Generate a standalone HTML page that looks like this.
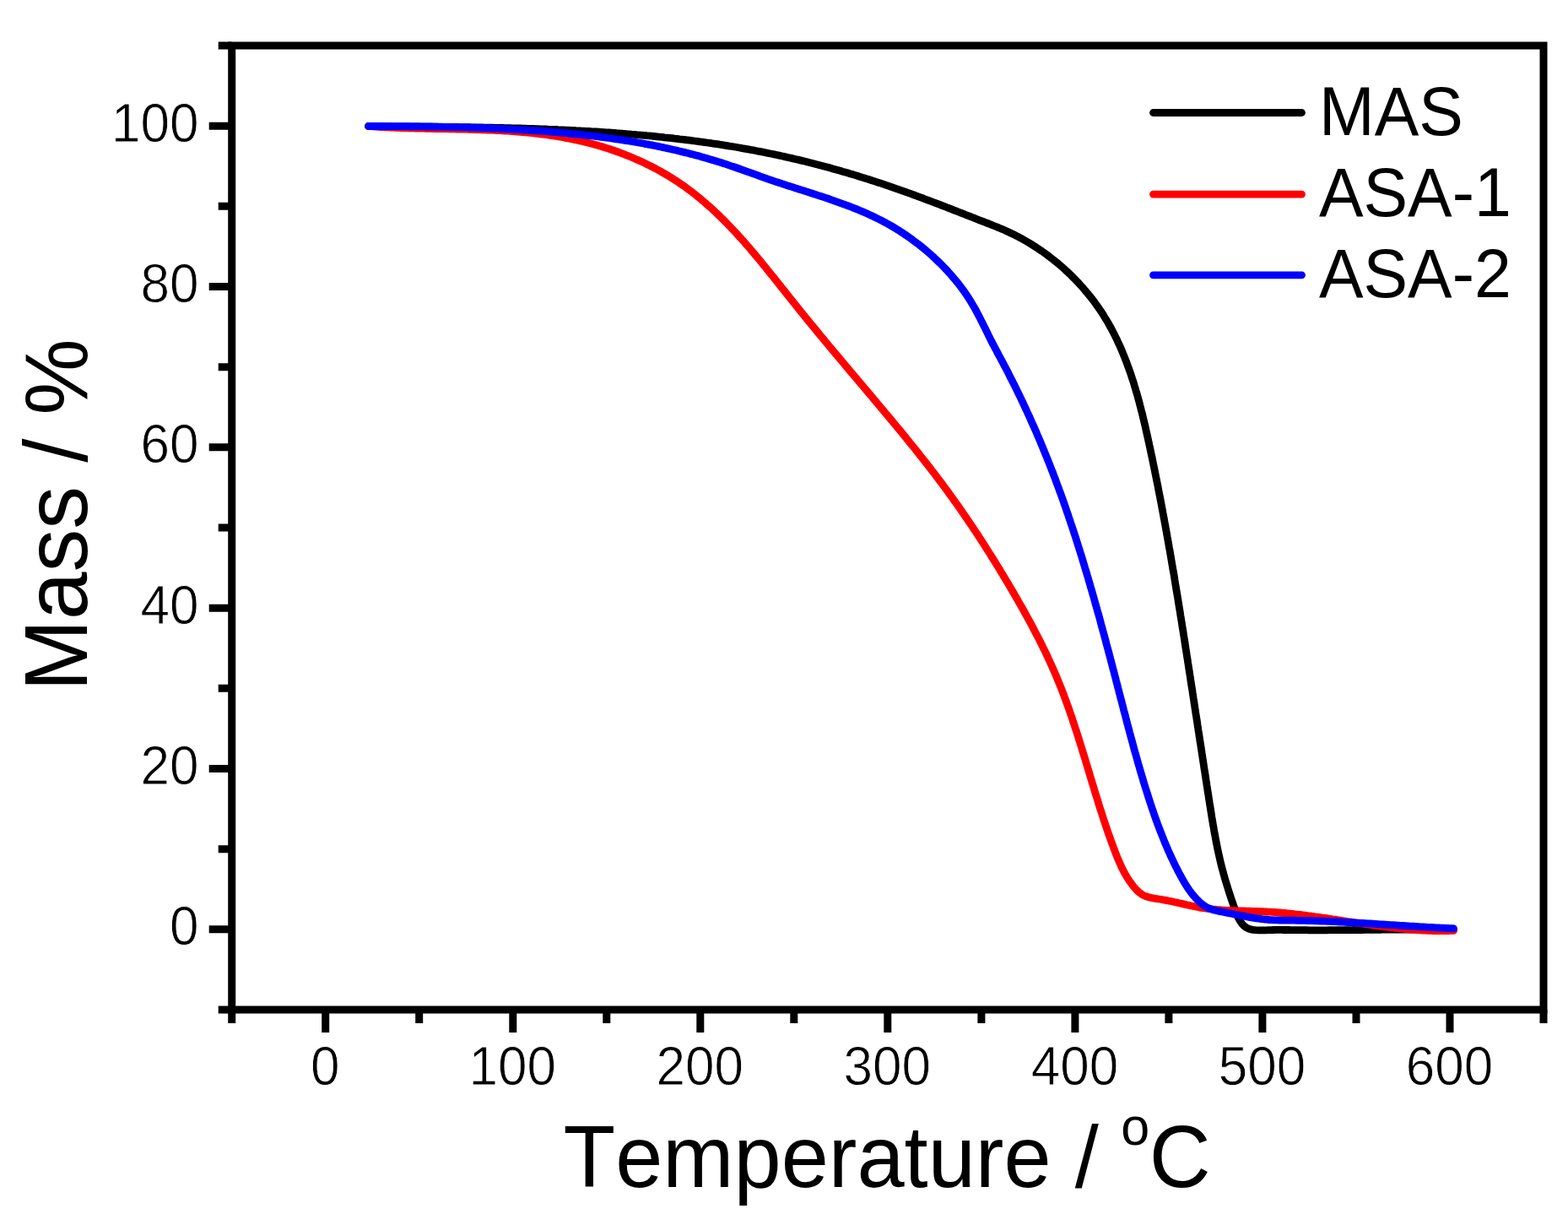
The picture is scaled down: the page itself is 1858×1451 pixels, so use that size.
<!DOCTYPE html>
<html lang="en">
<head>
<meta charset="utf-8">
<title>TGA curves: Mass / % vs Temperature / °C</title>
<style>
html,body{margin:0;padding:0;background:#fff;}
body{width:1858px;height:1451px;overflow:hidden;font-family:"Liberation Sans",Arial,Helvetica,sans-serif;}
svg{display:block;}
</style>
</head>
<body>
<svg width="1858" height="1451" viewBox="0 0 1858 1451" role="img" aria-label="TGA curves">
<rect width="1858" height="1451" fill="#fff"/>
<g fill="none" stroke-width="8.8" stroke-linecap="round" stroke-linejoin="round">
<path stroke="#000" d="M436.5,149.5 L439.5,149.5 L442.4,149.6 L445.4,149.6 L448.4,149.6 L451.4,149.6 L454.4,149.7 L457.3,149.7 L460.3,149.7 L463.3,149.7 L466.3,149.8 L469.3,149.8 L472.2,149.8 L475.2,149.9 L478.2,149.9 L481.2,149.9 L484.2,149.9 L487.2,150.0 L490.2,150.0 L493.2,150.0 L496.1,150.0 L499.1,150.1 L502.1,150.1 L505.1,150.1 L508.1,150.2 L511.1,150.2 L514.1,150.2 L517.1,150.2 L520.1,150.3 L523.1,150.3 L526.1,150.3 L529.1,150.4 L532.1,150.4 L535.1,150.5 L538.1,150.5 L541.1,150.5 L544.1,150.6 L547.1,150.6 L550.1,150.7 L553.1,150.7 L556.1,150.7 L559.1,150.8 L562.1,150.8 L565.1,150.9 L568.2,150.9 L571.2,151.0 L574.2,151.1 L577.2,151.1 L580.2,151.2 L583.2,151.2 L586.2,151.3 L589.2,151.4 L592.2,151.4 L595.2,151.5 L598.2,151.6 L601.2,151.6 L604.3,151.7 L607.3,151.8 L610.3,151.9 L613.3,152.0 L616.3,152.0 L619.3,152.1 L622.3,152.2 L625.3,152.3 L628.3,152.4 L631.3,152.5 L634.4,152.6 L637.4,152.7 L640.4,152.8 L643.4,152.9 L646.4,153.0 L649.4,153.2 L652.4,153.3 L655.4,153.4 L658.4,153.5 L661.4,153.7 L664.5,153.8 L667.5,153.9 L670.5,154.1 L673.5,154.2 L676.5,154.4 L679.5,154.5 L682.5,154.7 L685.5,154.8 L688.5,155.0 L691.5,155.1 L694.5,155.3 L697.5,155.5 L700.5,155.7 L703.5,155.8 L706.6,156.0 L709.6,156.2 L712.6,156.4 L715.6,156.6 L718.6,156.8 L721.6,157.0 L724.6,157.2 L727.6,157.4 L730.6,157.7 L733.6,157.9 L736.6,158.1 L739.6,158.3 L742.6,158.6 L745.6,158.8 L748.5,159.1 L751.5,159.3 L754.5,159.6 L757.5,159.8 L760.5,160.1 L763.5,160.4 L766.5,160.7 L769.5,160.9 L772.5,161.2 L775.5,161.5 L778.5,161.8 L781.4,162.1 L784.4,162.4 L787.4,162.8 L790.4,163.1 L793.4,163.4 L796.3,163.7 L799.3,164.1 L802.3,164.4 L805.3,164.8 L808.3,165.1 L811.2,165.5 L814.2,165.8 L817.2,166.2 L820.2,166.6 L823.1,167.0 L826.1,167.4 L829.1,167.8 L832.0,168.2 L835.0,168.6 L838.0,169.0 L840.9,169.4 L843.9,169.9 L846.8,170.3 L849.8,170.7 L852.7,171.2 L855.7,171.6 L858.7,172.1 L861.6,172.6 L864.6,173.1 L867.5,173.5 L870.5,174.0 L873.4,174.5 L876.3,175.0 L879.3,175.6 L882.2,176.1 L885.2,176.6 L888.1,177.1 L891.0,177.7 L894.0,178.2 L896.9,178.8 L899.8,179.3 L902.8,179.9 L905.7,180.5 L908.6,181.1 L911.5,181.7 L914.5,182.3 L917.4,182.9 L920.3,183.5 L923.2,184.1 L926.1,184.8 L929.0,185.4 L932.0,186.1 L934.9,186.7 L937.8,187.4 L940.7,188.1 L943.6,188.7 L946.5,189.4 L949.4,190.1 L952.3,190.8 L955.2,191.5 L958.1,192.3 L961.0,193.0 L963.9,193.7 L966.8,194.5 L969.7,195.2 L972.6,196.0 L975.4,196.7 L978.3,197.5 L981.2,198.3 L984.1,199.1 L987.0,199.9 L989.9,200.7 L992.8,201.5 L995.6,202.3 L998.5,203.2 L1001.4,204.0 L1004.3,204.8 L1007.2,205.7 L1010.0,206.5 L1012.9,207.4 L1015.8,208.3 L1018.7,209.2 L1021.5,210.1 L1024.4,211.0 L1027.3,211.9 L1030.1,212.8 L1033.0,213.7 L1035.9,214.6 L1038.8,215.6 L1041.6,216.5 L1044.5,217.4 L1047.4,218.4 L1050.2,219.4 L1053.1,220.3 L1056.0,221.3 L1058.8,222.3 L1061.7,223.3 L1064.6,224.3 L1067.4,225.3 L1070.3,226.3 L1073.2,227.4 L1076.0,228.4 L1078.9,229.4 L1081.7,230.5 L1084.6,231.5 L1087.5,232.6 L1090.3,233.6 L1093.2,234.7 L1096.0,235.8 L1098.9,236.8 L1101.7,237.9 L1104.6,239.0 L1107.4,240.1 L1110.3,241.2 L1113.1,242.2 L1115.9,243.3 L1118.8,244.4 L1121.6,245.5 L1124.4,246.6 L1127.2,247.7 L1130.0,248.8 L1132.9,249.9 L1135.7,251.0 L1138.5,252.1 L1141.3,253.2 L1144.0,254.3 L1146.8,255.3 L1149.6,256.4 L1152.4,257.5 L1155.2,258.6 L1157.9,259.7 L1160.7,260.8 L1163.4,261.8 L1166.2,262.9 L1168.9,264.0 L1171.7,265.0 L1174.4,266.1 L1177.1,267.2 L1179.8,268.3 L1182.5,269.4 L1185.2,270.5 L1187.9,271.6 L1190.6,272.8 L1193.2,274.0 L1195.9,275.2 L1198.6,276.5 L1201.2,277.7 L1203.9,279.1 L1206.5,280.4 L1209.1,281.8 L1211.7,283.2 L1214.3,284.7 L1216.9,286.2 L1219.5,287.7 L1222.0,289.3 L1224.6,290.9 L1227.1,292.5 L1229.6,294.1 L1232.1,295.8 L1234.6,297.5 L1237.1,299.3 L1239.5,301.1 L1242.0,302.9 L1244.4,304.7 L1246.8,306.6 L1249.2,308.5 L1251.5,310.4 L1253.9,312.3 L1256.2,314.3 L1258.5,316.3 L1260.8,318.3 L1263.0,320.4 L1265.3,322.4 L1267.5,324.5 L1269.7,326.7 L1271.8,328.8 L1274.0,331.0 L1276.1,333.2 L1278.2,335.4 L1280.2,337.6 L1282.3,339.9 L1284.3,342.2 L1286.2,344.5 L1288.2,346.8 L1290.1,349.1 L1292.0,351.5 L1293.8,353.8 L1295.7,356.2 L1297.5,358.6 L1299.2,361.1 L1301.0,363.5 L1302.7,366.0 L1304.3,368.4 L1306.0,370.9 L1307.6,373.4 L1309.1,375.9 L1310.7,378.5 L1312.2,381.0 L1313.7,383.6 L1315.1,386.2 L1316.6,388.8 L1317.9,391.4 L1319.3,394.0 L1320.7,396.6 L1322.0,399.3 L1323.3,401.9 L1324.5,404.6 L1325.8,407.3 L1327.0,409.9 L1328.2,412.6 L1329.4,415.4 L1330.5,418.1 L1331.6,420.8 L1332.7,423.6 L1333.8,426.3 L1334.9,429.1 L1335.9,431.9 L1336.9,434.7 L1337.9,437.4 L1338.9,440.3 L1339.9,443.1 L1340.8,445.9 L1341.7,448.7 L1342.7,451.5 L1343.6,454.4 L1344.4,457.2 L1345.3,460.1 L1346.1,463.0 L1347.0,465.8 L1347.8,468.7 L1348.6,471.6 L1349.4,474.5 L1350.2,477.4 L1350.9,480.3 L1351.7,483.2 L1352.4,486.1 L1353.2,489.0 L1353.9,491.9 L1354.6,494.9 L1355.3,497.8 L1356.0,500.7 L1356.7,503.6 L1357.4,506.6 L1358.0,509.5 L1358.7,512.5 L1359.3,515.4 L1360.0,518.3 L1360.6,521.3 L1361.3,524.2 L1361.9,527.2 L1362.6,530.1 L1363.2,533.1 L1363.8,536.0 L1364.4,539.0 L1365.1,541.9 L1365.7,544.9 L1366.3,547.8 L1366.9,550.8 L1367.5,553.7 L1368.1,556.7 L1368.7,559.7 L1369.3,562.6 L1369.9,565.6 L1370.5,568.5 L1371.1,571.5 L1371.7,574.4 L1372.3,577.4 L1372.8,580.4 L1373.4,583.3 L1374.0,586.3 L1374.6,589.2 L1375.1,592.2 L1375.7,595.1 L1376.3,598.1 L1376.8,601.1 L1377.4,604.0 L1377.9,607.0 L1378.5,610.0 L1379.0,612.9 L1379.6,615.9 L1380.1,618.8 L1380.7,621.8 L1381.2,624.8 L1381.7,627.7 L1382.3,630.7 L1382.8,633.7 L1383.3,636.6 L1383.9,639.6 L1384.4,642.6 L1384.9,645.5 L1385.4,648.5 L1386.0,651.5 L1386.5,654.4 L1387.0,657.4 L1387.5,660.4 L1388.0,663.3 L1388.5,666.3 L1389.0,669.3 L1389.5,672.2 L1390.0,675.2 L1390.6,678.2 L1391.1,681.1 L1391.6,684.1 L1392.0,687.1 L1392.5,690.1 L1393.0,693.0 L1393.5,696.0 L1394.0,699.0 L1394.5,701.9 L1395.0,704.9 L1395.5,707.9 L1396.0,710.8 L1396.4,713.8 L1396.9,716.8 L1397.4,719.8 L1397.9,722.7 L1398.4,725.7 L1398.8,728.7 L1399.3,731.6 L1399.8,734.6 L1400.3,737.6 L1400.7,740.5 L1401.2,743.5 L1401.7,746.5 L1402.2,749.5 L1402.6,752.4 L1403.1,755.4 L1403.6,758.4 L1404.0,761.3 L1404.5,764.3 L1404.9,767.3 L1405.4,770.2 L1405.9,773.2 L1406.3,776.2 L1406.8,779.1 L1407.3,782.1 L1407.7,785.1 L1408.2,788.1 L1408.6,791.0 L1409.1,794.0 L1409.6,797.0 L1410.0,799.9 L1410.5,802.9 L1410.9,805.9 L1411.4,808.8 L1411.8,811.8 L1412.3,814.8 L1412.8,817.7 L1413.2,820.7 L1413.7,823.7 L1414.1,826.6 L1414.6,829.6 L1415.0,832.5 L1415.5,835.5 L1415.9,838.5 L1416.4,841.4 L1416.8,844.4 L1417.3,847.4 L1417.8,850.3 L1418.2,853.3 L1418.7,856.2 L1419.1,859.2 L1419.6,862.2 L1420.0,865.1 L1420.5,868.1 L1420.9,871.0 L1421.4,874.0 L1421.8,877.0 L1422.3,879.9 L1422.8,882.9 L1423.2,885.8 L1423.7,888.8 L1424.1,891.7 L1424.6,894.7 L1425.0,897.7 L1425.5,900.6 L1425.9,903.6 L1426.4,906.5 L1426.8,909.5 L1427.3,912.4 L1427.8,915.4 L1428.2,918.3 L1428.7,921.3 L1429.1,924.2 L1429.6,927.2 L1430.0,930.1 L1430.5,933.1 L1430.9,936.0 L1431.4,939.0 L1431.9,941.9 L1432.3,944.9 L1432.8,947.8 L1433.2,950.7 L1433.7,953.7 L1434.2,956.6 L1434.6,959.6 L1435.1,962.5 L1435.6,965.5 L1436.0,968.4 L1436.5,971.3 L1437.0,974.3 L1437.5,977.2 L1438.0,980.1 L1438.5,983.1 L1439.0,986.0 L1439.6,988.9 L1440.1,991.9 L1440.7,994.8 L1441.2,997.7 L1441.8,1000.7 L1442.4,1003.6 L1443.0,1006.5 L1443.6,1009.5 L1444.3,1012.4 L1444.9,1015.3 L1445.6,1018.2 L1446.3,1021.2 L1447.0,1024.1 L1447.7,1027.0 L1448.5,1029.9 L1449.3,1032.8 L1450.1,1035.8 L1450.9,1038.7 L1451.7,1041.6 L1452.6,1044.5 L1453.5,1047.4 L1454.4,1050.3 L1455.3,1053.2 L1456.2,1056.1 L1457.1,1059.0 L1458.1,1061.9 L1459.0,1064.8 L1460.0,1067.6 L1461.0,1070.4 L1461.9,1073.3 L1462.9,1076.1 L1463.8,1078.8 L1464.9,1081.6 L1466.0,1084.3 L1467.2,1087.0 L1468.7,1089.7 L1470.3,1092.3 L1472.2,1094.7 L1474.3,1096.9 L1476.7,1098.6 L1479.3,1100.0 L1482.1,1100.9 L1485.0,1101.4 L1488.0,1101.7 L1491.0,1101.9 L1494.0,1101.9 L1497.0,1101.9 L1500.0,1101.8 L1503.0,1101.7 L1506.0,1101.6 L1509.0,1101.5 L1512.0,1101.4 L1515.0,1101.4 L1518.1,1101.4 L1521.1,1101.5 L1524.1,1101.5 L1527.1,1101.5 L1530.1,1101.6 L1533.1,1101.6 L1536.1,1101.7 L1539.2,1101.7 L1542.2,1101.7 L1545.2,1101.7 L1548.2,1101.7 L1551.2,1101.8 L1554.2,1101.8 L1557.2,1101.8 L1560.2,1101.8 L1563.2,1101.8 L1566.1,1101.8 L1569.1,1101.8 L1572.1,1101.8 L1575.1,1101.7 L1578.1,1101.7 L1581.1,1101.7 L1584.1,1101.7 L1587.1,1101.7 L1590.0,1101.7 L1593.0,1101.6 L1596.0,1101.6 L1599.0,1101.6 L1602.0,1101.6 L1605.0,1101.5 L1607.9,1101.5 L1610.9,1101.5 L1613.9,1101.5 L1616.9,1101.4 L1619.9,1101.4 L1622.9,1101.4 L1625.8,1101.3 L1628.8,1101.3 L1631.8,1101.3 L1634.8,1101.3 L1637.8,1101.2 L1640.8,1101.2 L1643.7,1101.2 L1646.7,1101.2 L1649.7,1101.1 L1652.7,1101.1 L1655.7,1101.1 L1658.7,1101.1 L1661.7,1101.1 L1664.7,1101.1 L1667.7,1101.1 L1670.7,1101.0 L1673.7,1101.0 L1676.7,1101.0 L1679.7,1101.0 L1682.7,1101.1 L1685.7,1101.1 L1688.7,1101.1 L1691.8,1101.1 L1694.8,1101.1 L1697.8,1101.1 L1700.8,1101.2 L1703.8,1101.2 L1706.9,1101.2 L1709.9,1101.3 L1712.9,1101.3 L1716.0,1101.4 L1719.0,1101.4 L1722.1,1101.5 L1722.5,1101.5"/>
<path stroke="#f00" d="M436.5,149.5 L439.5,149.7 L442.4,149.9 L445.4,150.1 L448.4,150.3 L451.4,150.5 L454.3,150.6 L457.3,150.8 L460.3,150.9 L463.3,151.0 L466.3,151.2 L469.3,151.3 L472.3,151.4 L475.3,151.5 L478.3,151.6 L481.2,151.7 L484.2,151.8 L487.2,151.9 L490.2,151.9 L493.2,152.0 L496.2,152.1 L499.2,152.2 L502.2,152.2 L505.3,152.3 L508.3,152.3 L511.3,152.4 L514.3,152.5 L517.3,152.5 L520.3,152.6 L523.3,152.6 L526.3,152.7 L529.3,152.7 L532.3,152.8 L535.3,152.8 L538.3,152.9 L541.3,153.0 L544.4,153.0 L547.4,153.1 L550.4,153.2 L553.4,153.2 L556.4,153.3 L559.4,153.4 L562.4,153.5 L565.4,153.6 L568.4,153.7 L571.4,153.8 L574.4,153.9 L577.4,154.0 L580.4,154.1 L583.4,154.2 L586.4,154.4 L589.4,154.5 L592.4,154.7 L595.4,154.9 L598.4,155.0 L601.4,155.2 L604.4,155.4 L607.4,155.6 L610.4,155.9 L613.4,156.1 L616.4,156.3 L619.4,156.6 L622.4,156.9 L625.3,157.1 L628.3,157.4 L631.3,157.7 L634.3,158.1 L637.3,158.4 L640.2,158.8 L643.2,159.1 L646.2,159.5 L649.1,159.9 L652.1,160.4 L655.1,160.8 L658.0,161.2 L661.0,161.7 L663.9,162.2 L666.9,162.7 L669.8,163.3 L672.8,163.8 L675.7,164.4 L678.6,165.0 L681.6,165.6 L684.5,166.2 L687.4,166.9 L690.4,167.5 L693.3,168.2 L696.2,169.0 L699.1,169.7 L702.0,170.5 L704.9,171.3 L707.8,172.1 L710.7,172.9 L713.6,173.8 L716.5,174.7 L719.4,175.6 L722.3,176.5 L725.1,177.5 L728.0,178.5 L730.8,179.5 L733.7,180.5 L736.5,181.6 L739.4,182.7 L742.2,183.8 L745.0,184.9 L747.8,186.0 L750.6,187.2 L753.3,188.4 L756.1,189.6 L758.9,190.9 L761.6,192.1 L764.3,193.4 L767.0,194.8 L769.7,196.1 L772.4,197.5 L775.1,198.8 L777.8,200.2 L780.4,201.7 L783.0,203.1 L785.6,204.6 L788.2,206.1 L790.8,207.6 L793.4,209.2 L795.9,210.8 L798.5,212.4 L801.0,214.0 L803.5,215.6 L805.9,217.3 L808.4,219.0 L810.8,220.7 L813.2,222.4 L815.6,224.2 L818.0,226.0 L820.4,227.8 L822.7,229.6 L825.0,231.4 L827.3,233.3 L829.6,235.2 L831.9,237.1 L834.1,239.0 L836.4,240.9 L838.6,242.9 L840.8,244.8 L843.0,246.8 L845.2,248.8 L847.4,250.9 L849.5,252.9 L851.7,255.0 L853.8,257.0 L855.9,259.1 L858.0,261.2 L860.1,263.3 L862.2,265.5 L864.3,267.6 L866.3,269.8 L868.4,271.9 L870.4,274.1 L872.5,276.3 L874.5,278.5 L876.5,280.7 L878.5,282.9 L880.5,285.2 L882.5,287.4 L884.4,289.7 L886.4,291.9 L888.4,294.2 L890.3,296.5 L892.3,298.8 L894.2,301.1 L896.1,303.4 L898.1,305.7 L900.0,308.0 L901.9,310.3 L903.8,312.7 L905.7,315.0 L907.6,317.3 L909.5,319.7 L911.4,322.0 L913.3,324.4 L915.2,326.7 L917.1,329.1 L919.0,331.5 L920.9,333.8 L922.8,336.2 L924.6,338.5 L926.5,340.9 L928.4,343.3 L930.3,345.6 L932.2,348.0 L934.0,350.4 L935.9,352.7 L937.8,355.1 L939.7,357.5 L941.6,359.8 L943.5,362.2 L945.4,364.5 L947.2,366.9 L949.1,369.2 L951.0,371.6 L952.9,373.9 L954.8,376.3 L956.7,378.6 L958.6,380.9 L960.5,383.3 L962.5,385.6 L964.4,387.9 L966.3,390.3 L968.2,392.6 L970.1,394.9 L972.0,397.2 L973.9,399.5 L975.9,401.9 L977.8,404.2 L979.7,406.5 L981.6,408.8 L983.5,411.1 L985.5,413.4 L987.4,415.7 L989.3,418.0 L991.3,420.3 L993.2,422.6 L995.1,424.9 L997.1,427.2 L999.0,429.5 L1000.9,431.8 L1002.8,434.1 L1004.8,436.4 L1006.7,438.7 L1008.6,441.0 L1010.6,443.3 L1012.5,445.6 L1014.5,447.9 L1016.4,450.2 L1018.3,452.5 L1020.3,454.7 L1022.2,457.0 L1024.1,459.3 L1026.1,461.6 L1028.0,463.9 L1029.9,466.2 L1031.9,468.5 L1033.8,470.8 L1035.7,473.1 L1037.7,475.4 L1039.6,477.7 L1041.5,480.0 L1043.4,482.3 L1045.4,484.6 L1047.3,486.9 L1049.2,489.2 L1051.1,491.5 L1053.1,493.8 L1055.0,496.1 L1056.9,498.4 L1058.8,500.7 L1060.7,503.0 L1062.6,505.3 L1064.6,507.6 L1066.5,509.9 L1068.4,512.2 L1070.3,514.6 L1072.2,516.9 L1074.1,519.2 L1075.9,521.5 L1077.8,523.9 L1079.7,526.2 L1081.6,528.5 L1083.5,530.8 L1085.4,533.2 L1087.2,535.5 L1089.1,537.9 L1090.9,540.2 L1092.8,542.5 L1094.7,544.9 L1096.5,547.2 L1098.3,549.6 L1100.2,552.0 L1102.0,554.3 L1103.8,556.7 L1105.7,559.1 L1107.5,561.4 L1109.3,563.8 L1111.1,566.2 L1112.9,568.6 L1114.7,571.0 L1116.5,573.3 L1118.2,575.7 L1120.0,578.1 L1121.8,580.5 L1123.5,582.9 L1125.3,585.4 L1127.0,587.8 L1128.8,590.2 L1130.5,592.6 L1132.2,595.0 L1134.0,597.5 L1135.7,599.9 L1137.4,602.3 L1139.1,604.8 L1140.8,607.2 L1142.5,609.7 L1144.2,612.1 L1145.9,614.6 L1147.5,617.1 L1149.2,619.5 L1150.9,622.0 L1152.5,624.5 L1154.2,627.0 L1155.8,629.4 L1157.5,631.9 L1159.1,634.4 L1160.7,636.9 L1162.4,639.4 L1164.0,641.9 L1165.6,644.4 L1167.2,646.9 L1168.8,649.5 L1170.4,652.0 L1172.0,654.5 L1173.6,657.0 L1175.2,659.6 L1176.8,662.1 L1178.4,664.6 L1180.0,667.2 L1181.5,669.7 L1183.1,672.3 L1184.7,674.9 L1186.2,677.4 L1187.8,680.0 L1189.3,682.6 L1190.9,685.1 L1192.4,687.7 L1194.0,690.3 L1195.5,692.9 L1197.0,695.5 L1198.6,698.1 L1200.1,700.7 L1201.6,703.3 L1203.1,705.9 L1204.6,708.5 L1206.1,711.1 L1207.6,713.8 L1209.1,716.4 L1210.6,719.0 L1212.1,721.7 L1213.6,724.3 L1215.0,726.9 L1216.5,729.6 L1218.0,732.3 L1219.4,734.9 L1220.9,737.6 L1222.3,740.2 L1223.7,742.9 L1225.1,745.6 L1226.5,748.3 L1227.9,751.0 L1229.3,753.6 L1230.7,756.3 L1232.1,759.0 L1233.4,761.7 L1234.8,764.4 L1236.1,767.2 L1237.5,769.9 L1238.8,772.6 L1240.1,775.3 L1241.4,778.0 L1242.6,780.8 L1243.9,783.5 L1245.2,786.3 L1246.4,789.0 L1247.6,791.8 L1248.8,794.5 L1250.0,797.3 L1251.2,800.0 L1252.4,802.8 L1253.5,805.6 L1254.7,808.4 L1255.8,811.1 L1256.9,813.9 L1258.0,816.7 L1259.1,819.5 L1260.2,822.3 L1261.2,825.1 L1262.3,827.9 L1263.3,830.7 L1264.3,833.5 L1265.4,836.4 L1266.4,839.2 L1267.3,842.0 L1268.3,844.8 L1269.3,847.7 L1270.3,850.5 L1271.2,853.3 L1272.2,856.2 L1273.1,859.0 L1274.0,861.8 L1275.0,864.7 L1275.9,867.5 L1276.8,870.4 L1277.7,873.2 L1278.6,876.1 L1279.5,878.9 L1280.4,881.8 L1281.3,884.6 L1282.2,887.5 L1283.0,890.4 L1283.9,893.2 L1284.8,896.1 L1285.7,898.9 L1286.5,901.8 L1287.4,904.7 L1288.3,907.5 L1289.1,910.4 L1290.0,913.2 L1290.9,916.1 L1291.7,919.0 L1292.6,921.8 L1293.5,924.7 L1294.3,927.6 L1295.2,930.4 L1296.1,933.3 L1296.9,936.1 L1297.8,939.0 L1298.7,941.9 L1299.6,944.7 L1300.5,947.6 L1301.3,950.4 L1302.2,953.3 L1303.1,956.1 L1304.0,959.0 L1305.0,961.8 L1305.9,964.7 L1306.8,967.5 L1307.7,970.4 L1308.7,973.2 L1309.6,976.1 L1310.6,978.9 L1311.5,981.7 L1312.5,984.6 L1313.5,987.4 L1314.5,990.2 L1315.5,993.0 L1316.5,995.9 L1317.5,998.7 L1318.6,1001.5 L1319.6,1004.3 L1320.7,1007.1 L1321.7,1009.9 L1322.8,1012.7 L1323.9,1015.5 L1325.1,1018.3 L1326.3,1021.0 L1327.5,1023.8 L1328.7,1026.5 L1330.0,1029.2 L1331.4,1031.8 L1332.8,1034.5 L1334.3,1037.1 L1335.9,1039.7 L1337.5,1042.2 L1339.2,1044.7 L1341.0,1047.1 L1342.8,1049.6 L1344.8,1051.9 L1346.9,1054.2 L1349.1,1056.3 L1351.4,1058.2 L1353.8,1059.9 L1356.3,1061.1 L1359.0,1062.1 L1361.8,1062.9 L1364.7,1063.5 L1367.7,1064.1 L1370.7,1064.6 L1373.7,1065.0 L1376.7,1065.5 L1379.8,1066.1 L1382.7,1066.6 L1385.7,1067.2 L1388.7,1067.8 L1391.6,1068.5 L1394.6,1069.1 L1397.5,1069.8 L1400.4,1070.4 L1403.4,1071.1 L1406.3,1071.8 L1409.2,1072.4 L1412.1,1073.0 L1415.1,1073.6 L1418.0,1074.2 L1420.9,1074.8 L1423.8,1075.3 L1426.8,1075.7 L1429.7,1076.2 L1432.7,1076.5 L1435.6,1076.9 L1438.6,1077.2 L1441.6,1077.5 L1444.6,1077.7 L1447.5,1077.9 L1450.5,1078.1 L1453.5,1078.3 L1456.5,1078.4 L1459.5,1078.6 L1462.5,1078.7 L1465.5,1078.8 L1468.5,1078.9 L1471.5,1079.0 L1474.5,1079.0 L1477.5,1079.1 L1480.6,1079.2 L1483.6,1079.3 L1486.6,1079.4 L1489.6,1079.5 L1492.6,1079.6 L1495.6,1079.7 L1498.6,1079.8 L1501.6,1080.0 L1504.6,1080.1 L1507.6,1080.3 L1510.6,1080.5 L1513.6,1080.8 L1516.6,1081.0 L1519.6,1081.3 L1522.6,1081.5 L1525.6,1081.8 L1528.5,1082.1 L1531.5,1082.4 L1534.5,1082.8 L1537.5,1083.1 L1540.5,1083.4 L1543.4,1083.8 L1546.4,1084.2 L1549.4,1084.6 L1552.4,1084.9 L1555.3,1085.3 L1558.3,1085.8 L1561.3,1086.2 L1564.3,1086.6 L1567.2,1087.0 L1570.2,1087.4 L1573.2,1087.9 L1576.1,1088.3 L1579.1,1088.8 L1582.1,1089.2 L1585.0,1089.7 L1588.0,1090.1 L1591.0,1090.6 L1593.9,1091.0 L1596.9,1091.5 L1599.9,1091.9 L1602.8,1092.4 L1605.8,1092.8 L1608.8,1093.3 L1611.7,1093.7 L1614.7,1094.2 L1617.7,1094.6 L1620.6,1095.0 L1623.6,1095.5 L1626.6,1095.9 L1629.5,1096.3 L1632.5,1096.7 L1635.5,1097.1 L1638.5,1097.5 L1641.4,1097.8 L1644.4,1098.2 L1647.4,1098.6 L1650.4,1098.9 L1653.3,1099.3 L1656.3,1099.6 L1659.3,1099.9 L1662.3,1100.2 L1665.3,1100.5 L1668.2,1100.7 L1671.2,1101.0 L1674.2,1101.2 L1677.2,1101.4 L1680.2,1101.6 L1683.2,1101.8 L1686.2,1102.0 L1689.2,1102.1 L1692.2,1102.3 L1695.2,1102.4 L1698.2,1102.5 L1701.2,1102.5 L1704.2,1102.6 L1707.2,1102.6 L1710.2,1102.6 L1713.2,1102.5 L1716.2,1102.5 L1719.3,1102.4 L1722.3,1102.3 L1722.5,1102.3"/>
<path stroke="#00f" d="M436.5,149.5 L439.4,149.5 L442.4,149.5 L445.3,149.5 L448.3,149.5 L451.2,149.5 L454.2,149.6 L457.2,149.6 L460.1,149.6 L463.1,149.6 L466.1,149.6 L469.0,149.6 L472.0,149.6 L475.0,149.7 L478.0,149.7 L481.0,149.7 L483.9,149.7 L486.9,149.8 L489.9,149.8 L492.9,149.8 L495.9,149.8 L498.9,149.9 L501.9,149.9 L504.9,150.0 L507.9,150.0 L510.9,150.0 L513.9,150.1 L516.9,150.1 L519.9,150.2 L522.9,150.2 L526.0,150.3 L529.0,150.3 L532.0,150.4 L535.0,150.5 L538.0,150.5 L541.0,150.6 L544.0,150.7 L547.1,150.8 L550.1,150.8 L553.1,150.9 L556.1,151.0 L559.2,151.1 L562.2,151.2 L565.2,151.3 L568.2,151.4 L571.3,151.5 L574.3,151.6 L577.3,151.7 L580.3,151.8 L583.4,152.0 L586.4,152.1 L589.4,152.2 L592.4,152.3 L595.5,152.5 L598.5,152.6 L601.5,152.8 L604.5,152.9 L607.6,153.1 L610.6,153.3 L613.6,153.4 L616.6,153.6 L619.7,153.8 L622.7,154.0 L625.7,154.2 L628.7,154.3 L631.7,154.5 L634.7,154.8 L637.8,155.0 L640.8,155.2 L643.8,155.4 L646.8,155.6 L649.8,155.9 L652.8,156.1 L655.8,156.4 L658.8,156.6 L661.8,156.9 L664.8,157.1 L667.8,157.4 L670.8,157.7 L673.8,158.0 L676.8,158.3 L679.8,158.6 L682.8,158.9 L685.8,159.2 L688.8,159.5 L691.8,159.8 L694.7,160.2 L697.7,160.5 L700.7,160.9 L703.7,161.2 L706.6,161.6 L709.6,162.0 L712.6,162.3 L715.5,162.7 L718.5,163.1 L721.4,163.5 L724.4,163.9 L727.3,164.3 L730.3,164.8 L733.2,165.2 L736.2,165.7 L739.1,166.1 L742.0,166.6 L745.0,167.0 L747.9,167.5 L750.8,168.0 L753.7,168.5 L756.6,169.0 L759.6,169.5 L762.5,170.0 L765.4,170.6 L768.3,171.1 L771.2,171.7 L774.1,172.2 L777.0,172.8 L779.9,173.4 L782.8,174.0 L785.7,174.6 L788.6,175.2 L791.5,175.9 L794.4,176.5 L797.3,177.2 L800.2,177.8 L803.0,178.5 L805.9,179.2 L808.8,179.9 L811.7,180.6 L814.6,181.3 L817.4,182.1 L820.3,182.8 L823.2,183.6 L826.1,184.3 L829.0,185.1 L831.8,185.9 L834.7,186.7 L837.6,187.6 L840.5,188.4 L843.3,189.2 L846.2,190.1 L849.1,191.0 L851.9,191.9 L854.8,192.8 L857.7,193.7 L860.6,194.7 L863.4,195.6 L866.3,196.6 L869.2,197.5 L872.1,198.5 L874.9,199.5 L877.8,200.5 L880.7,201.6 L883.5,202.6 L886.4,203.6 L889.3,204.6 L892.2,205.7 L895.0,206.7 L897.9,207.7 L900.8,208.8 L903.7,209.8 L906.6,210.8 L909.4,211.8 L912.3,212.8 L915.2,213.8 L918.1,214.8 L921.0,215.8 L923.9,216.7 L926.8,217.7 L929.7,218.6 L932.5,219.6 L935.4,220.5 L938.3,221.4 L941.2,222.3 L944.1,223.3 L947.0,224.2 L949.9,225.1 L952.7,226.0 L955.6,226.9 L958.5,227.9 L961.3,228.8 L964.2,229.7 L967.1,230.6 L969.9,231.6 L972.8,232.5 L975.6,233.4 L978.5,234.4 L981.3,235.3 L984.2,236.3 L987.0,237.3 L989.8,238.3 L992.6,239.3 L995.4,240.3 L998.2,241.3 L1001.0,242.3 L1003.8,243.3 L1006.6,244.4 L1009.4,245.5 L1012.1,246.6 L1014.9,247.7 L1017.6,248.8 L1020.4,250.0 L1023.1,251.1 L1025.8,252.3 L1028.5,253.5 L1031.2,254.7 L1033.9,256.0 L1036.6,257.3 L1039.2,258.6 L1041.9,259.9 L1044.5,261.2 L1047.1,262.6 L1049.8,264.0 L1052.4,265.5 L1054.9,266.9 L1057.5,268.4 L1060.1,269.9 L1062.6,271.5 L1065.2,273.1 L1067.7,274.7 L1070.2,276.3 L1072.7,278.0 L1075.1,279.7 L1077.6,281.4 L1080.0,283.1 L1082.4,284.9 L1084.8,286.7 L1087.2,288.5 L1089.6,290.3 L1092.0,292.2 L1094.3,294.1 L1096.6,296.0 L1098.9,298.0 L1101.2,300.0 L1103.5,302.0 L1105.7,304.0 L1107.9,306.1 L1110.1,308.2 L1112.3,310.3 L1114.5,312.4 L1116.6,314.5 L1118.7,316.7 L1120.8,318.9 L1122.9,321.1 L1124.9,323.4 L1126.9,325.7 L1128.9,328.0 L1130.9,330.3 L1132.8,332.6 L1134.7,334.9 L1136.6,337.3 L1138.4,339.7 L1140.2,342.1 L1142.0,344.5 L1143.7,347.0 L1145.4,349.4 L1147.0,351.9 L1148.6,354.4 L1150.2,356.9 L1151.7,359.4 L1153.2,361.9 L1154.7,364.5 L1156.1,367.0 L1157.5,369.6 L1158.8,372.2 L1160.2,374.8 L1161.5,377.4 L1162.8,380.0 L1164.2,382.6 L1165.5,385.3 L1166.8,387.9 L1168.1,390.5 L1169.4,393.2 L1170.7,395.9 L1172.0,398.5 L1173.3,401.2 L1174.7,403.9 L1176.1,406.6 L1177.5,409.3 L1178.9,412.0 L1180.4,414.7 L1181.8,417.4 L1183.2,420.1 L1184.7,422.8 L1186.1,425.5 L1187.6,428.2 L1189.0,430.9 L1190.4,433.6 L1191.9,436.3 L1193.3,439.0 L1194.7,441.7 L1196.0,444.4 L1197.4,447.2 L1198.8,449.9 L1200.2,452.6 L1201.5,455.3 L1202.9,458.0 L1204.2,460.7 L1205.5,463.4 L1206.9,466.2 L1208.2,468.9 L1209.5,471.6 L1210.8,474.3 L1212.1,477.0 L1213.4,479.8 L1214.6,482.5 L1215.9,485.2 L1217.2,488.0 L1218.4,490.7 L1219.7,493.4 L1220.9,496.1 L1222.1,498.9 L1223.3,501.6 L1224.6,504.4 L1225.8,507.1 L1227.0,509.8 L1228.2,512.6 L1229.3,515.3 L1230.5,518.1 L1231.7,520.8 L1232.9,523.6 L1234.0,526.3 L1235.2,529.1 L1236.3,531.8 L1237.4,534.6 L1238.6,537.4 L1239.7,540.1 L1240.8,542.9 L1241.9,545.7 L1243.0,548.4 L1244.1,551.2 L1245.2,554.0 L1246.3,556.8 L1247.4,559.5 L1248.4,562.3 L1249.5,565.1 L1250.6,567.9 L1251.6,570.7 L1252.6,573.5 L1253.7,576.3 L1254.7,579.1 L1255.7,581.9 L1256.8,584.7 L1257.8,587.5 L1258.8,590.3 L1259.8,593.1 L1260.8,595.9 L1261.8,598.7 L1262.8,601.6 L1263.7,604.4 L1264.7,607.2 L1265.7,610.0 L1266.6,612.9 L1267.6,615.7 L1268.5,618.5 L1269.5,621.4 L1270.4,624.2 L1271.4,627.0 L1272.3,629.9 L1273.2,632.7 L1274.2,635.6 L1275.1,638.4 L1276.0,641.3 L1276.9,644.1 L1277.8,647.0 L1278.7,649.8 L1279.6,652.7 L1280.5,655.5 L1281.4,658.4 L1282.3,661.3 L1283.1,664.1 L1284.0,667.0 L1284.9,669.9 L1285.7,672.7 L1286.6,675.6 L1287.5,678.5 L1288.3,681.3 L1289.2,684.2 L1290.0,687.1 L1290.9,690.0 L1291.7,692.9 L1292.5,695.7 L1293.4,698.6 L1294.2,701.5 L1295.0,704.4 L1295.9,707.3 L1296.7,710.2 L1297.5,713.1 L1298.3,716.0 L1299.1,718.8 L1299.9,721.7 L1300.7,724.6 L1301.6,727.5 L1302.4,730.4 L1303.2,733.3 L1304.0,736.2 L1304.7,739.1 L1305.5,742.0 L1306.3,744.9 L1307.1,747.8 L1307.9,750.7 L1308.7,753.6 L1309.5,756.6 L1310.3,759.5 L1311.0,762.4 L1311.8,765.3 L1312.6,768.2 L1313.4,771.1 L1314.1,774.0 L1314.9,776.9 L1315.7,779.8 L1316.4,782.7 L1317.2,785.7 L1318.0,788.6 L1318.7,791.5 L1319.5,794.4 L1320.3,797.3 L1321.0,800.2 L1321.8,803.1 L1322.5,806.1 L1323.3,809.0 L1324.1,811.9 L1324.8,814.8 L1325.6,817.7 L1326.3,820.6 L1327.1,823.6 L1327.8,826.5 L1328.6,829.4 L1329.4,832.3 L1330.1,835.2 L1330.9,838.2 L1331.6,841.1 L1332.4,844.0 L1333.2,846.9 L1333.9,849.8 L1334.7,852.7 L1335.4,855.7 L1336.2,858.6 L1337.0,861.5 L1337.8,864.4 L1338.5,867.3 L1339.3,870.2 L1340.1,873.1 L1340.9,876.0 L1341.7,878.9 L1342.5,881.8 L1343.2,884.7 L1344.0,887.6 L1344.8,890.5 L1345.7,893.4 L1346.5,896.3 L1347.3,899.2 L1348.1,902.1 L1348.9,905.0 L1349.8,907.9 L1350.6,910.7 L1351.4,913.6 L1352.3,916.5 L1353.1,919.4 L1354.0,922.2 L1354.8,925.1 L1355.7,928.0 L1356.6,930.8 L1357.5,933.7 L1358.4,936.5 L1359.3,939.4 L1360.2,942.2 L1361.1,945.1 L1362.0,947.9 L1362.9,950.7 L1363.9,953.6 L1364.8,956.4 L1365.8,959.2 L1366.7,962.0 L1367.7,964.9 L1368.7,967.7 L1369.7,970.5 L1370.7,973.3 L1371.7,976.1 L1372.8,978.9 L1373.8,981.6 L1374.9,984.4 L1376.0,987.2 L1377.1,990.0 L1378.2,992.7 L1379.3,995.5 L1380.4,998.3 L1381.6,1001.0 L1382.8,1003.7 L1383.9,1006.5 L1385.1,1009.2 L1386.4,1011.9 L1387.6,1014.7 L1388.9,1017.4 L1390.2,1020.1 L1391.5,1022.8 L1392.8,1025.5 L1394.2,1028.2 L1395.5,1030.9 L1396.9,1033.5 L1398.3,1036.2 L1399.8,1038.9 L1401.2,1041.5 L1402.8,1044.1 L1404.3,1046.7 L1405.9,1049.3 L1407.5,1051.8 L1409.2,1054.3 L1411.0,1056.8 L1412.8,1059.1 L1414.7,1061.4 L1416.7,1063.7 L1418.7,1065.8 L1420.9,1067.9 L1423.1,1069.9 L1425.5,1071.8 L1428.0,1073.5 L1430.6,1075.0 L1433.3,1076.2 L1436.1,1077.2 L1438.9,1078.1 L1441.7,1078.8 L1444.6,1079.4 L1447.6,1080.0 L1450.5,1080.5 L1453.5,1081.1 L1456.4,1081.7 L1459.4,1082.3 L1462.3,1082.9 L1465.3,1083.5 L1468.3,1084.1 L1471.2,1084.7 L1474.2,1085.2 L1477.2,1085.8 L1480.2,1086.4 L1483.2,1086.9 L1486.1,1087.4 L1489.1,1087.8 L1492.1,1088.2 L1495.1,1088.6 L1498.1,1089.0 L1501.1,1089.2 L1504.1,1089.5 L1507.1,1089.6 L1510.1,1089.8 L1513.1,1089.9 L1516.1,1090.0 L1519.1,1090.0 L1522.1,1090.1 L1525.1,1090.1 L1528.1,1090.1 L1531.1,1090.2 L1534.1,1090.2 L1537.1,1090.3 L1540.1,1090.3 L1543.1,1090.4 L1546.1,1090.4 L1549.1,1090.5 L1552.1,1090.6 L1555.1,1090.7 L1558.1,1090.8 L1561.1,1090.9 L1564.1,1091.0 L1567.1,1091.1 L1570.0,1091.2 L1573.0,1091.3 L1576.0,1091.4 L1579.0,1091.6 L1582.0,1091.7 L1585.0,1091.9 L1588.0,1092.0 L1591.0,1092.2 L1594.0,1092.3 L1597.0,1092.5 L1599.9,1092.6 L1602.9,1092.8 L1605.9,1093.0 L1608.9,1093.1 L1611.9,1093.3 L1614.9,1093.5 L1617.9,1093.7 L1620.9,1093.9 L1623.9,1094.0 L1626.8,1094.2 L1629.8,1094.4 L1632.8,1094.6 L1635.8,1094.8 L1638.8,1095.0 L1641.8,1095.2 L1644.8,1095.4 L1647.8,1095.6 L1650.8,1095.7 L1653.8,1095.9 L1656.7,1096.1 L1659.7,1096.3 L1662.7,1096.5 L1665.7,1096.7 L1668.7,1096.9 L1671.7,1097.1 L1674.7,1097.2 L1677.7,1097.4 L1680.7,1097.6 L1683.7,1097.8 L1686.7,1097.9 L1689.7,1098.1 L1692.7,1098.3 L1695.7,1098.4 L1698.7,1098.6 L1701.7,1098.8 L1704.7,1098.9 L1707.7,1099.1 L1710.7,1099.2 L1713.7,1099.3 L1716.7,1099.5 L1719.7,1099.6 L1722.5,1099.7"/>
</g>
<path d="M274.7,1196.0v16.0M385.7,1196.0v27.0M496.7,1196.0v16.0M607.8,1196.0v27.0M718.8,1196.0v16.0M829.8,1196.0v27.0M940.8,1196.0v16.0M1051.8,1196.0v27.0M1162.9,1196.0v16.0M1273.9,1196.0v27.0M1384.9,1196.0v16.0M1495.9,1196.0v27.0M1607.0,1196.0v16.0M1718.0,1196.0v27.0M1829.0,1196.0v16.0M274.7,1196.0h-16.0M274.7,1100.8h-27.0M274.7,1005.7h-16.0M274.7,910.5h-27.0M274.7,815.3h-16.0M274.7,720.2h-27.0M274.7,625.0h-16.0M274.7,529.8h-27.0M274.7,434.7h-16.0M274.7,339.5h-27.0M274.7,244.3h-16.0M274.7,149.2h-27.0M274.7,54.0h-16.0" stroke="#000" stroke-width="9.0" fill="none"/>
<rect x="274.7" y="54.0" width="1554.3" height="1142.0" fill="none" stroke="#000" stroke-width="9.0"/>
<g font-family="'Liberation Sans', Arial, Helvetica, sans-serif" fill="#000" style="font-kerning:none" font-kerning="none">
<g stroke="#fff" stroke-width="0.8" stroke-linejoin="round">
<text transform="translate(385.2,1284.8) scale(1,1.04)" font-size="62" text-anchor="middle">0</text>
<text transform="translate(607.3,1284.8) scale(1,1.04)" font-size="62" text-anchor="middle">100</text>
<text transform="translate(829.3,1284.8) scale(1,1.04)" font-size="62" text-anchor="middle">200</text>
<text transform="translate(1051.3,1284.8) scale(1,1.04)" font-size="62" text-anchor="middle">300</text>
<text transform="translate(1273.4,1284.8) scale(1,1.04)" font-size="62" text-anchor="middle">400</text>
<text transform="translate(1495.4,1284.8) scale(1,1.04)" font-size="62" text-anchor="middle">500</text>
<text transform="translate(1717.5,1284.8) scale(1,1.04)" font-size="62" text-anchor="middle">600</text>
<text transform="translate(235.5,1119.3) scale(1,1.04)" font-size="62" text-anchor="end">0</text>
<text transform="translate(235.5,929.0) scale(1,1.04)" font-size="62" text-anchor="end">20</text>
<text transform="translate(235.5,738.7) scale(1,1.04)" font-size="62" text-anchor="end">40</text>
<text transform="translate(235.5,548.3) scale(1,1.04)" font-size="62" text-anchor="end">60</text>
<text transform="translate(235.5,358.0) scale(1,1.04)" font-size="62" text-anchor="end">80</text>
<text transform="translate(235.5,167.7) scale(1,1.04)" font-size="62" text-anchor="end">100</text>
</g>
<text transform="translate(667.5,1405.5) scale(1,1.035)" font-size="101.0" text-anchor="start">Temperature / <tspan font-size="61" dy="-48" dx="-1.5">o</tspan><tspan dy="48" dx="-0.5">C</tspan></text>
<text transform="translate(103.0,818.5) rotate(-90) scale(1,1.035)" font-size="101.5" text-anchor="start">Mass / %</text>
<text transform="translate(1563.0,160.0) scale(1,1.04)" font-size="78.8" text-anchor="start">MAS</text>
<text transform="translate(1563.0,256.4) scale(1,1.04)" font-size="78.8" text-anchor="start">ASA-1</text>
<text transform="translate(1563.0,351.8) scale(1,1.04)" font-size="78.8" text-anchor="start">ASA-2</text>
</g>
<g fill="none" stroke-width="8.8" stroke-linecap="round">
<path stroke="#000" d="M1366.5,133.5H1542.5"/>
<path stroke="#f00" d="M1366.5,230.1H1542.5"/>
<path stroke="#00f" d="M1366.5,325.8H1542.5"/>
</g>
</svg>
</body>
</html>
